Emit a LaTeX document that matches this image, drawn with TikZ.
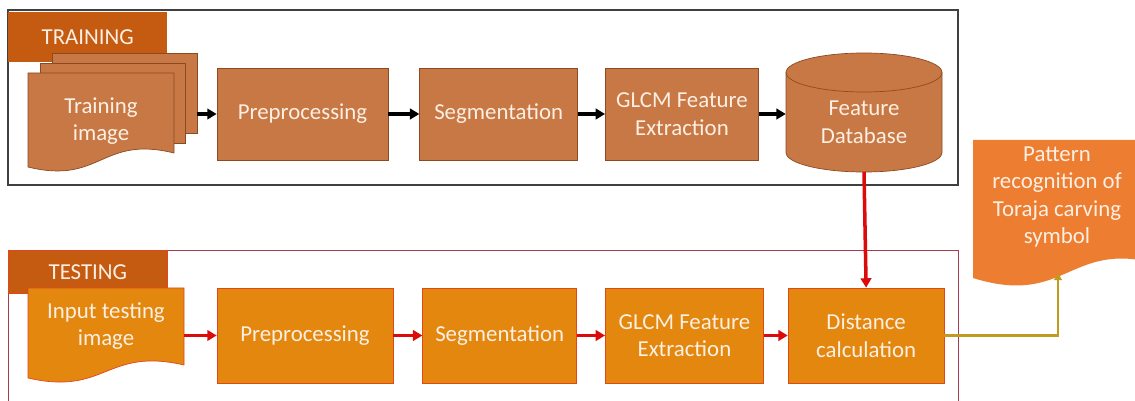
\documentclass[tikz,border=0pt]{standalone}
\usepackage{fontspec}
\setmainfont{Carlito}
\usetikzlibrary{arrows.meta,positioning}

\definecolor{trainfill}{HTML}{C87844}
\definecolor{trainline}{HTML}{8B4A22}
\definecolor{tabfill}{HTML}{C55A11}
\definecolor{testfill}{HTML}{E3870E}
\definecolor{testline}{HTML}{E2461C}
\definecolor{patfill}{HTML}{ED7D31}
\definecolor{arrowred}{HTML}{DD0A0A}
\definecolor{arrowgold}{HTML}{C29A1F}
\definecolor{trainframe}{HTML}{404040}
\definecolor{testframe}{HTML}{A33B52}
\definecolor{boxtext}{HTML}{FCEFE3}

\newcommand{\boxfont}{\fontsize{19.5}{23.5}\selectfont}
% sheet with a wavy bottom: style, left, top, right, bottom left, bottom right, wave
\newcommand{\docshape}[7]{%
  \filldraw[#1] (#2,#3) -- (#4,#3) -- (#4,#6)
    .. controls ({(#2+#4)/2},{#6-#7}) and ({(#2+#4)/2},{#5+#7}) .. (#2,#5) -- cycle;}

\begin{document}
\begin{tikzpicture}[x=0.03cm,y=-0.03cm,node distance=0.9cm,
    every node/.style={font=\boxfont,text=boxtext,align=center},
    train box/.style={rectangle,draw=trainline,fill=trainfill,line width=0.6pt,minimum height=2.76cm},
    test box/.style={rectangle,draw=testline,fill=testfill,line width=0.6pt,minimum height=2.85cm},
    sheet/.style={rectangle,draw=trainline,fill=trainfill,line width=0.6pt,minimum width=4.35cm,minimum height=2.4cm},
    tab/.style={rectangle,fill=tabfill,anchor=north west,minimum width=4.77cm,inner sep=0pt},
    black line/.style={-{Triangle[length=8pt,width=9pt]},line width=3pt,black},
    red line/.style={-{Triangle[length=8pt,width=9pt]},line width=3pt,arrowred},
    gold line/.style={-{Triangle[length=6pt,width=6.5pt]},line width=2.4pt,arrowgold}]
  \useasboundingbox (0,0) rectangle (1135,401);

  % training
  \draw[trainframe,line width=1pt] (8,10) rectangle (958,185);
  \node[tab,minimum height=1.5cm] (trtab) at (8,12) {TRAINING};
  \node[sheet] (trback) at (124.5,93) {};
  \node[sheet] (trmid) at (112.5,103) {};
  \docshape{fill=trainfill,draw=trainline,line width=0.6pt}{28}{73}{174}{167}{153}{18}
  \node[minimum width=4.38cm] (trimg) at (101,121) {Training\\image};

  \node[train box,minimum width=5.13cm] (trpre) at (302.5,114) {Preprocessing};
  \node[train box,minimum width=4.74cm] (trseg) [right=0.93cm of trpre] {Segmentation};
  \node[train box,minimum width=4.59cm] (trglcm) [right=0.81cm of trseg] {GLCM Feature\\Extraction};

  \filldraw[fill=trainfill,draw=trainline,line width=0.6pt] (786,72.5) -- (786,152.5)
    arc[start angle=180,end angle=0,x radius=78,y radius=19.5] -- (942,72.5)
    arc[start angle=0,end angle=-180,x radius=78,y radius=19.5] -- cycle;
  \draw[trainline,line width=0.6pt] (786,72.5) arc[start angle=180,end angle=0,x radius=78,y radius=19.5];
  \node[minimum width=4.68cm] (db) at (864,122) {Feature\\Database};
  \coordinate (dbbot) at (864,172);

  \draw[black line] (trback.east |- trpre.west) -- (trpre.west);
  \path[black line]
    (trpre) edge (trseg)
    (trseg) edge (trglcm);
  \draw[black line] (trglcm.east) -- (trglcm.east -| db.west);

  % testing
  \draw[testframe,line width=0.6pt] (8,402) -- (8,250) -- (958,250) -- (958,402);
  \node[tab,draw=testline,line width=0.6pt,minimum height=1.29cm] (tetab) at (8,250) {TESTING};
  \docshape{fill=testfill,draw=testline,line width=0.6pt}{28}{288}{184}{378}{365}{18}
  \node[minimum width=4.68cm] (teimg) at (106,326) {Input testing\\image};

  \node[test box,minimum width=5.28cm] (tepre) at (305,335.5) {Preprocessing};
  \node[test box,minimum width=4.62cm] (teseg) [right=0.87cm of tepre] {Segmentation};
  \node[test box,minimum width=4.74cm] (teglcm) [right=0.84cm of teseg] {GLCM Feature\\Extraction};
  \node[test box,minimum width=4.68cm] (dist) [right=0.72cm of teglcm] {Distance\\calculation};

  \draw[red line] (teimg.east |- tepre.west) -- (tepre.west);
  \path[red line]
    (tepre) edge (teseg)
    (teseg) edge (teglcm)
    (teglcm) edge (dist);
  \draw[red line] (dbbot) -- (dist.north);

  % result
  \docshape{fill=patfill,draw=none}{973}{140}{1165}{278}{266}{30}
  \node (pat) at (1057,197) {Pattern\\recognition of\\Toraja carving\\symbol};
  \coordinate (patbot) at (1058,273);
  \draw[gold line] (dist.east) -| (patbot);
\end{tikzpicture}
\end{document}
